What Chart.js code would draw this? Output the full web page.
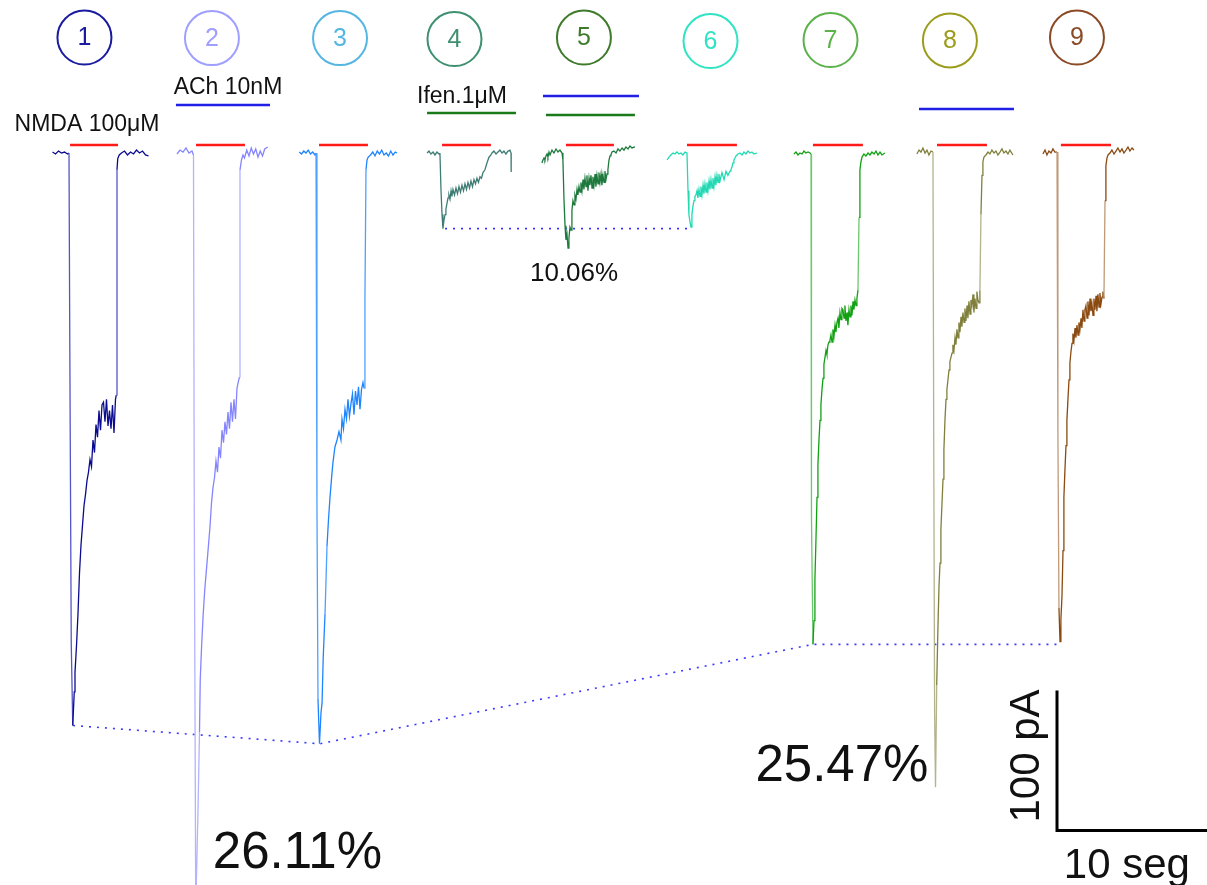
<!DOCTYPE html>
<html>
<head>
<meta charset="utf-8">
<script src="https://cdn.jsdelivr.net/npm/chart.js@4.4.1/dist/chart.umd.min.js"></script>
<style>
  html, body { margin: 0; padding: 0; background: #fff; }
  #wrap { width: 1207px; height: 885px; position: relative; }
</style>
</head>
<body>
<div id="wrap"><canvas id="traces"></canvas></div>
<script>
// sweeps, time in s, current in pA (0 = holding baseline)
const sweeps = ['1', '2', '3', '4', '5', '6', '7', '8', '9']

const trace1 = [[3.5,0.7],[3.7,-0.7],[3.9,1.4],[4.1,0],[4.3,0.7],[4.5,-0.7],[4.6,0],[4.65,-130],[4.75,-350],[4.85,-409],[4.95,-385],[5.0,-371],[5.1,-352],[5.2,-329],[5.3,-300],[5.4,-280],[5.5,-266],[5.6,-252],[5.7,-244],[5.8,-234],[5.9,-228],[6.0,-219],[6.1,-224],[6.2,-205],[6.3,-214],[6.4,-194],[6.5,-203],[6.6,-184],[6.7,-198],[6.8,-180],[6.9,-178],[7.0,-192],[7.1,-176],[7.2,-195],[7.3,-184],[7.4,-197],[7.5,-180],[7.6,-200],[7.7,-176],[7.75,-173],[7.8,-12],[7.85,-4],[7.95,-1.4],[8.1,0],[8.3,1.4],[8.5,-1.4],[8.7,0.7],[8.9,-0.7],[9.1,2.1],[9.3,0],[9.5,1.4],[9.7,-1.4],[9.9,-2.1]]

const trace2 = [[11.8,-0.7],[12.0,2.1],[12.2,0.7],[12.4,3.6],[12.6,0],[12.8,1.4],[12.9,-1.4],[12.95,-250],[13.05,-540],[13.2,-470],[13.3,-414],[13.35,-376],[13.45,-350],[13.55,-329],[13.65,-312],[13.8,-293],[13.9,-280],[14.0,-267],[14.1,-250],[14.2,-239],[14.3,-232],[14.4,-220],[14.5,-228],[14.6,-210],[14.7,-218],[14.8,-198],[14.9,-207],[15.0,-192],[15.1,-201],[15.2,-185],[15.3,-197],[15.4,-178],[15.5,-192],[15.6,-176],[15.7,-190],[15.8,-168],[15.9,-163],[15.97,-160],[16.0,-12],[16.1,-5],[16.2,-1.4],[16.3,-3.6],[16.45,2.1],[16.6,-2.1],[16.75,3.6],[16.9,-0.7],[17.05,2.9],[17.2,-2.9],[17.35,1.4],[17.5,-2.1],[17.65,2.9],[17.85,4.3]]

const trace3 = [[19.95,0.7],[20.1,-0.7],[20.25,1.4],[20.4,0],[20.55,2.1],[20.7,-0.7],[20.85,0.7],[21.0,-1.4],[21.07,0],[21.13,-250],[21.2,-390],[21.3,-422],[21.4,-400],[21.47,-393],[21.55,-360],[21.67,-329],[21.8,-281],[21.9,-262],[22.0,-246],[22.13,-229],[22.2,-221],[22.33,-210],[22.47,-205],[22.6,-199],[22.73,-205],[22.8,-190],[22.9,-197],[23.0,-183],[23.1,-190],[23.2,-176],[23.3,-188],[23.4,-179],[23.5,-172],[23.6,-187],[23.7,-170],[23.8,-180],[23.9,-167],[24.0,-183],[24.1,-169],[24.2,-164],[24.27,-168],[24.33,-105],[24.4,-12],[24.47,-5],[24.55,-2.9],[24.7,-1.4],[24.85,0.7],[25.0,-2.1],[25.15,1.4],[25.3,-0.7],[25.45,2.1],[25.6,-1.4],[25.75,0],[25.9,-2.1],[26.05,1.4],[26.2,-1.4],[26.35,0.7],[26.47,0]]

const trace4 = [[28.47,0],[28.6,1.4],[28.73,-0.7],[28.87,0.7],[29.0,-1.4],[29.13,0.7],[29.27,-0.7],[29.33,0],[29.4,-26],[29.47,-44],[29.53,-54],[29.6,-48],[29.67,-44],[29.73,-40],[29.8,-36],[29.87,-32],[29.93,-30],[30.0,-33],[30.07,-27],[30.13,-31],[30.2,-26],[30.3,-30],[30.4,-25],[30.5,-29],[30.6,-24],[30.7,-28],[30.8,-23],[30.9,-27],[31.0,-22],[31.1,-26],[31.2,-21],[31.3,-25],[31.4,-20],[31.5,-24],[31.6,-19],[31.7,-22],[31.8,-18],[31.9,-21],[32.0,-17],[32.1,-18],[32.2,-14],[32.33,-12],[32.47,-7],[32.6,-3],[32.73,-1.4],[32.8,0],[32.93,1.4],[33.07,-0.7],[33.2,0.7],[33.33,2.1],[33.47,0],[33.6,1.4],[33.73,-0.7],[33.87,1.4],[34.0,2.1],[34.07,0],[34.08,-13.6]]

const trace5 = [[36.13,-7.1],[36.2,-5],[36.27,-3.6],[36.33,-5],[36.4,-2.1],[36.47,-0.7],[36.53,-2.9],[36.6,0.7],[36.67,-1.4],[36.8,2.1],[36.93,0],[37.07,2.9],[37.2,0.7],[37.33,2.1],[37.47,0],[37.53,-5],[37.6,-33],[37.67,-52],[37.73,-62],[37.8,-58],[37.87,-68],[37.93,-61],[38.0,-53],[38.07,-55],[38.13,-41],[38.2,-34],[38.27,-37],[38.33,-30],[38.4,-33],[38.47,-26],[38.53,-30],[38.6,-24],[38.67,-28],[38.73,-21],[38.8,-27],[38.87,-19],[38.93,-26],[39.0,-18],[39.07,-24],[39.13,-16],[39.2,-27],[39.27,-18],[39.33,-23],[39.4,-16],[39.47,-25],[39.53,-17],[39.6,-23],[39.67,-15],[39.73,-24],[39.8,-16],[39.87,-22],[39.93,-14],[40.0,-21],[40.07,-15],[40.13,-23],[40.2,-16],[40.27,-21],[40.33,-13],[40.4,-19],[40.47,-15],[40.53,-12],[40.6,-5],[40.67,-2.1],[40.73,-1.4],[40.8,0.7],[40.93,1.4],[41.07,0],[41.2,2.9],[41.33,1.4],[41.47,3.6],[41.6,2.1],[41.73,4.3],[41.87,2.9],[42.0,5],[42.13,3.6],[42.33,4.3]]

const trace6 = [[44.47,-5],[44.6,-2.9],[44.73,-1.4],[44.87,0],[45.0,-0.7],[45.13,0.7],[45.27,-0.7],[45.4,0],[45.53,-1.4],[45.67,0.7],[45.8,0],[45.87,-27],[45.93,-44],[46.0,-49],[46.07,-53],[46.13,-44],[46.2,-38],[46.27,-34],[46.33,-31],[46.4,-30],[46.47,-27],[46.53,-32],[46.6,-26],[46.67,-31],[46.73,-24],[46.8,-30],[46.87,-23],[46.93,-29],[47.0,-22],[47.07,-28],[47.13,-21],[47.2,-27],[47.27,-20],[47.33,-26],[47.4,-19],[47.47,-25],[47.53,-18],[47.6,-24],[47.67,-17],[47.73,-23],[47.8,-16],[47.87,-21],[47.93,-15],[48.0,-20],[48.13,-14],[48.27,-19],[48.4,-13],[48.53,-16],[48.67,-13],[48.73,-12],[48.8,-10],[48.87,-7],[48.93,-5],[49.0,-3.6],[49.07,-2.1],[49.2,-0.7],[49.33,0],[49.47,-1.4],[49.6,0.7],[49.73,-0.7],[49.87,1.4],[50.0,0],[50.13,0.7],[50.27,-0.7],[50.47,0]]

const trace7 = [[52.93,-0.7],[53.07,0.7],[53.2,-1.4],[53.33,0],[53.47,-0.7],[53.6,1.4],[53.73,0],[53.87,0.7],[54.0,0],[54.07,-0.7],[54.1,-260],[54.2,-351],[54.27,-334],[54.33,-305],[54.4,-276],[54.47,-246],[54.53,-223],[54.6,-205],[54.67,-191],[54.73,-180],[54.8,-169],[54.87,-161],[54.93,-151],[55.0,-146],[55.07,-141],[55.13,-144],[55.2,-137],[55.27,-135],[55.33,-134],[55.4,-130],[55.47,-135],[55.53,-126],[55.6,-131],[55.67,-123],[55.73,-128],[55.8,-121],[55.87,-118],[55.93,-125],[56.0,-114],[56.07,-119],[56.13,-111],[56.2,-112],[56.27,-118],[56.33,-109],[56.4,-120],[56.47,-114],[56.53,-123],[56.6,-112],[56.67,-117],[56.73,-109],[56.8,-116],[56.87,-106],[56.93,-112],[57.0,-105],[57.07,-109],[57.13,-104],[57.2,-98],[57.27,-46],[57.33,-12],[57.4,-6.4],[57.47,-2.9],[57.6,-0.7],[57.73,-2.1],[57.87,0],[58.0,-1.4],[58.13,0.7],[58.27,-0.7],[58.4,1.4],[58.53,-1.4],[58.67,0.7],[58.8,-1.4],[59.0,0]]

const trace8 = [[61.13,-0.7],[61.27,2.1],[61.4,0.7],[61.53,3.6],[61.67,0],[61.8,2.1],[61.93,-1.4],[62.07,1.4],[62.2,0.7],[62.25,-200],[62.31,-400],[62.37,-453],[62.45,-380],[62.53,-340],[62.6,-310],[62.67,-293],[62.73,-269],[62.8,-251],[62.87,-233],[62.93,-212],[63.0,-191],[63.07,-176],[63.13,-169],[63.2,-162],[63.27,-155],[63.33,-149],[63.4,-146],[63.47,-143],[63.53,-137],[63.6,-141],[63.67,-132],[63.73,-137],[63.8,-126],[63.87,-132],[63.93,-121],[64.0,-128],[64.07,-117],[64.13,-124],[64.2,-114],[64.27,-121],[64.33,-111],[64.4,-120],[64.47,-109],[64.53,-118],[64.6,-106],[64.67,-115],[64.73,-105],[64.8,-109],[64.87,-101],[64.93,-114],[65.0,-104],[65.07,-111],[65.13,-99],[65.2,-105],[65.27,-107],[65.33,-98],[65.4,-44],[65.47,-16],[65.53,-6.4],[65.6,-2.9],[65.73,-1.4],[65.87,0.7],[66.0,-0.7],[66.13,2.1],[66.27,0],[66.4,1.4],[66.53,-1.4],[66.67,0.7],[66.8,2.9],[66.93,0],[67.07,1.4],[67.2,-0.7],[67.33,2.1],[67.53,-1.4]]

const trace9 = [[69.53,-0.7],[69.67,2.1],[69.8,-1.4],[69.93,1.4],[70.07,0],[70.2,2.9],[70.33,0.7],[70.47,0.7],[70.53,-200],[70.6,-325],[70.67,-349],[70.73,-333],[70.8,-317],[70.87,-284],[70.93,-246],[71.0,-226],[71.07,-209],[71.13,-191],[71.2,-176],[71.27,-162],[71.33,-150],[71.4,-142],[71.47,-136],[71.53,-129],[71.6,-134],[71.67,-125],[71.73,-132],[71.8,-123],[71.87,-130],[71.93,-121],[72.0,-126],[72.07,-118],[72.13,-125],[72.2,-112],[72.27,-120],[72.33,-112],[72.4,-109],[72.47,-118],[72.53,-106],[72.6,-116],[72.67,-104],[72.73,-113],[72.8,-108],[72.87,-116],[72.93,-104],[73.0,-112],[73.07,-102],[73.13,-113],[73.2,-101],[73.27,-110],[73.33,-100],[73.4,-108],[73.47,-103],[73.53,-99],[73.6,-104],[73.67,-34],[73.73,-9],[73.8,-3.6],[73.87,-1.4],[74.0,0],[74.13,2.1],[74.27,-0.7],[74.4,1.4],[74.53,3.6],[74.67,0.7],[74.8,2.9],[74.93,0],[75.07,2.1],[75.2,4.3],[75.33,1.4],[75.47,3.6],[75.6,2.1]]

const traces = [trace1, trace2, trace3, trace4, trace5, trace6, trace7, trace8, trace9]

// drug application windows (s)
const nmdaOn = [[4.67,7.87],[13.07,16.33],[21.27,24.53],[29.47,32.73],[37.73,40.93],[45.8,49.13],[54.2,57.53],[62.47,65.8],[70.73,74.07]]
const achOn  = [[11.73,18.0],[36.2,42.6],[61.27,67.6]]
const ifenOn = [[28.47,34.4],[36.4,42.33]]

// peak amplitudes joined by dotted lines (s, pA)
const peakLine     = [[4.87,-409],[21.33,-422],[54.2,-351],[70.67,-351]]
const ifenPeakLine = [[29.67,-54],[46.13,-54]]

// scale bar: 10 s x 100 pA
const scaleBar = [[70.47,-384],[70.47,-484],[80.47,-484]]

// styling
const traceColors  = ['#0b0b8f','#8585ff','#1f84ff','#3f7d74','#1d7a3c','#22d9b3','#12a112','#80803c','#8a4a10']
const edgeColors   = ['#5555c8','#b3b3ff','#4da0ff','#6a9a92','#4f9a68','#70e6cf','#6cc86c','#b3b38c','#c09a78']
const badgeColors  = ['#1b1ba0','#9f9fff','#56b6e2','#3e9070','#3f7a2c','#2fe3c3','#5cb24a','#9c9c1c','#8b4a26']
const badgeAt      = [[5.63,82.5],[14.13,82.1],[22.67,82.1],[30.3,81.4],[38.93,82.5],[47.37,80],[55.37,80.7],[63.33,80.4],[71.8,82.5]]
const achLevel     = [34.3, 40.7, 31.4]
const ifenLevel    = [28.6, 27.1]
const nmdaLevel    = 5.7

const notes = [
  { text: 'NMDA 100μM', x: 5.8,   y: 20,     size: 23 },
  { text: 'ACh 10nM',   x: 15.2,  y: 46.4,   size: 23 },
  { text: 'Ifen.1μM',   x: 30.8,  y: 40,     size: 23 },
  { text: '10.06%',     x: 38.27, y: -86.4,  size: 26 },
  { text: '26.11%',     x: 19.83, y: -500.7, size: 51 },
  { text: '25.47%',     x: 56.13, y: -438.6, size: 51 },
  { text: '10 seg',     x: 75.13, y: -509.3, size: 42 },
  { text: '100 pA',     x: 68.47, y: -430.7, size: 42, rot: -Math.PI / 2 },
]

const FONT = '"Liberation Sans", Arial, sans-serif'
const pts  = arr => arr.map(([x, y]) => ({ x, y }))

const datasets = []

traces.forEach((tr, i) => {
    datasets.push({
        data: pts(tr),
        borderColor: traceColors[i],
        borderWidth: 1.3,
        segment: {
            borderColor: c => Math.abs(c.p1.parsed.y - c.p0.parsed.y) > 45 ? edgeColors[i] : undefined
        }
    })
})

nmdaOn.forEach(([a, b]) => {
    datasets.push({ data: pts([[a, nmdaLevel], [b, nmdaLevel]]), borderColor: '#ff1a1a', borderWidth: 2.5 })
})
achOn.forEach(([a, b], i) => {
    datasets.push({ data: pts([[a, achLevel[i]], [b, achLevel[i]]]), borderColor: '#1f1fe6', borderWidth: 2.5 })
})
ifenOn.forEach(([a, b], i) => {
    datasets.push({ data: pts([[a, ifenLevel[i]], [b, ifenLevel[i]]]), borderColor: '#1a7a1a', borderWidth: 2.5 })
})

datasets.push({ data: pts(peakLine),     borderColor: '#3a3aff', borderWidth: 1.6, borderDash: [2, 6] })
datasets.push({ data: pts(ifenPeakLine), borderColor: '#3a3aff', borderWidth: 1.6, borderDash: [2, 6] })
datasets.push({ data: pts(scaleBar),     borderColor: '#000', borderWidth: 3, borderJoinStyle: 'miter' })

datasets.push({
    data: pts(badgeAt),
    showLine: false,
    pointRadius: 27,
    pointBorderWidth: 2,
    pointBorderColor: badgeColors,
    pointBackgroundColor: 'rgba(0,0,0,0)',
    clip: false
})

const textPlugin = {
    id: 'texts',
    afterDatasetsDraw(chart) {
        const { ctx, scales: { x, y } } = chart
        ctx.save()
        ctx.textAlign = 'center'
        ctx.textBaseline = 'middle'

        badgeAt.forEach(([bx, by], i) => {
            ctx.font = `25px ${FONT}`
            ctx.fillStyle = badgeColors[i]
            ctx.fillText(sweeps[i], x.getPixelForValue(bx), y.getPixelForValue(by) + 1)
        })

        notes.forEach(n => {
            ctx.save()
            ctx.font = `${n.size}px ${FONT}`
            ctx.fillStyle = '#111'
            ctx.translate(x.getPixelForValue(n.x), y.getPixelForValue(n.y))
            if (n.rot) ctx.rotate(n.rot)
            ctx.fillText(n.text, 0, 0)
            ctx.restore()
        })
        ctx.restore()
    }
}

new Chart(document.getElementById('traces'), {
    type: 'line',
    data: { datasets },
    options: {
        responsive: true,
        maintainAspectRatio: false,
        animation: false,
        layout: { padding: 0, autoPadding: false },
        elements: { point: { radius: 0 }, line: { tension: 0 } },
        scales: {
            x: { type: 'linear', min: 0, max: 80.47, display: false },
            y: { type: 'linear', min: -522.9, max: 109.3, display: false }
        },
        plugins: { legend: { display: false }, tooltip: { enabled: false } }
    },
    plugins: [textPlugin]
})
</script>
</body>
</html>
